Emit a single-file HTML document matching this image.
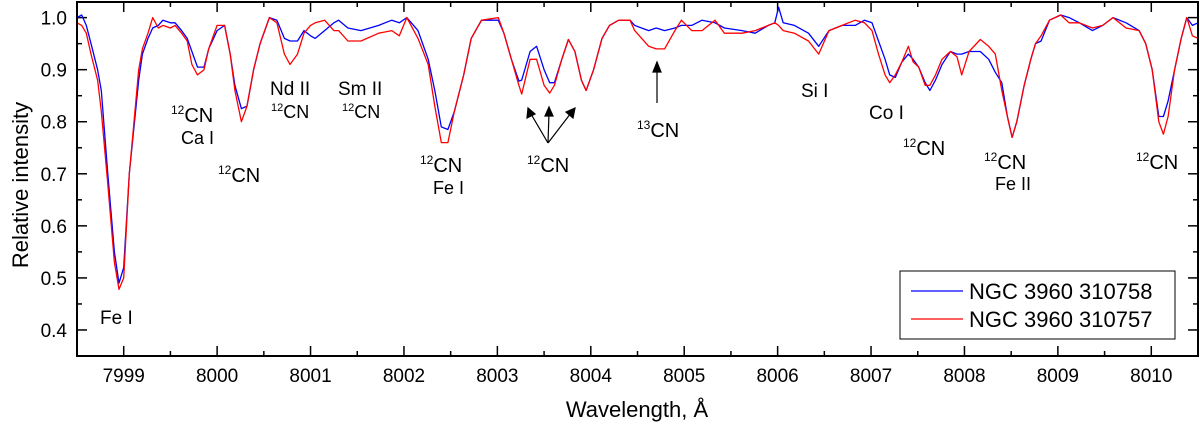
<!DOCTYPE html>
<html><head><meta charset="utf-8"><style>
body{margin:0;background:#fff;}
svg{display:block;font-family:"Liberation Sans",Arial,sans-serif;}
</style></head><body>
<svg id="chart" width="1200" height="424" viewBox="0 0 1200 424">
<g id="ticks"></g>
<g id="series"></g>
<rect x="77" y="2" width="1121" height="354" fill="none" stroke="#000" stroke-width="2"/>
<g id="ann" font-size="20" fill="#000">
<text x="100" y="324" font-size="19">Fe I</text>
<text x="171" y="122"><tspan font-size="12" dy="-8">12</tspan><tspan dy="8">CN</tspan></text>
<text x="181" y="144" font-size="18">Ca I</text>
<text x="218" y="182"><tspan font-size="12" dy="-8">12</tspan><tspan dy="8">CN</tspan></text>
<text x="270" y="95" font-size="19">Nd II</text>
<text x="271" y="118" font-size="18"><tspan font-size="11" dy="-7">12</tspan><tspan dy="7">CN</tspan></text>
<text x="338" y="95" font-size="19">Sm II</text>
<text x="342" y="118" font-size="18"><tspan font-size="11" dy="-7">12</tspan><tspan dy="7">CN</tspan></text>
<text x="420" y="172"><tspan font-size="12" dy="-8">12</tspan><tspan dy="8">CN</tspan></text>
<text x="433" y="194" font-size="18">Fe I</text>
<text x="527" y="172"><tspan font-size="12" dy="-8">12</tspan><tspan dy="8">CN</tspan></text>
<text x="637" y="137"><tspan font-size="12" dy="-8">13</tspan><tspan dy="8">CN</tspan></text>
<text x="801" y="97" font-size="19">Si I</text>
<text x="869" y="119" font-size="19">Co I</text>
<text x="903" y="155"><tspan font-size="12" dy="-8">12</tspan><tspan dy="8">CN</tspan></text>
<text x="984" y="169"><tspan font-size="12" dy="-8">12</tspan><tspan dy="8">CN</tspan></text>
<text x="995" y="190" font-size="18">Fe II</text>
<text x="1136" y="169"><tspan font-size="12" dy="-8">12</tspan><tspan dy="8">CN</tspan></text>
</g>
<g stroke="#000" stroke-width="1.2" fill="#000">
<line x1="548" y1="143" x2="531" y2="114"/><polygon points="528,108 527,118 535,114"/>
<line x1="548" y1="143" x2="549" y2="113"/><polygon points="549,107 545,116 553,116"/>
<line x1="548" y1="143" x2="571" y2="113"/><polygon points="575,108 566,112 573,118"/>
<line x1="657" y1="103" x2="657" y2="70"/><polygon points="657,62 653,72 661,72"/>
</g>
<g>
<rect x="900" y="271" width="275" height="68" fill="#fff" stroke="#000" stroke-width="1"/>
<line x1="911" y1="291" x2="963" y2="291" stroke="#0000ff" stroke-width="1.2"/>
<line x1="911" y1="319" x2="963" y2="319" stroke="#ff0000" stroke-width="1.2"/>
<text x="969" y="299" font-size="22">NGC 3960 310758</text>
<text x="969" y="327" font-size="22">NGC 3960 310757</text>
</g>
<text x="637" y="417" font-size="22" text-anchor="middle">Wavelength, Å</text>
<text transform="translate(28,185) rotate(-90)" font-size="22" text-anchor="middle">Relative intensity</text>
</svg>
<script>
const xTicks=[7999,8000,8001,8002,8003,8004,8005,8006,8007,8008,8009,8010];
const yTicks=[0.4,0.5,0.6,0.7,0.8,0.9,1.0];
const wavelengths=[7998.5,7998.55,7998.6,7998.65,7998.72,7998.76,7998.83,7998.9,7998.95,7999.0,7999.06,7999.16,7999.2,7999.26,7999.31,7999.37,7999.42,7999.5,7999.55,7999.62,7999.68,7999.73,7999.79,7999.86,7999.91,8000.0,8000.08,8000.14,8000.19,8000.26,8000.32,8000.39,8000.46,8000.56,8000.64,8000.72,8000.78,8000.86,8000.93,8001.0,8001.05,8001.15,8001.25,8001.3,8001.4,8001.54,8001.73,8001.87,8001.95,8002.03,8002.15,8002.26,8002.33,8002.4,8002.47,8002.54,8002.64,8002.72,8002.83,8003.01,8003.07,8003.15,8003.23,8003.26,8003.35,8003.42,8003.5,8003.56,8003.61,8003.69,8003.76,8003.83,8003.9,8003.95,8004.03,8004.12,8004.2,8004.3,8004.42,8004.47,8004.62,8004.7,8004.79,8004.9,8004.97,8005.08,8005.19,8005.33,8005.43,8005.62,8005.76,8005.9,8005.97,8006.01,8006.06,8006.18,8006.33,8006.44,8006.55,8006.69,8006.83,8006.93,8007.01,8007.08,8007.15,8007.2,8007.26,8007.33,8007.4,8007.45,8007.51,8007.58,8007.63,8007.69,8007.76,8007.85,8007.92,8007.97,8008.05,8008.17,8008.26,8008.33,8008.4,8008.46,8008.51,8008.56,8008.64,8008.71,8008.76,8008.82,8008.91,8009.03,8009.12,8009.23,8009.37,8009.48,8009.59,8009.73,8009.87,8009.94,8010.01,8010.08,8010.13,8010.18,8010.25,8010.32,8010.38,8010.44,8010.5];
const blueValues=[1.0,1.005,0.985,0.95,0.90,0.86,0.70,0.55,0.49,0.52,0.70,0.88,0.93,0.96,0.98,0.985,0.995,0.99,0.99,0.975,0.96,0.935,0.905,0.905,0.94,0.975,0.985,0.93,0.87,0.825,0.83,0.90,0.95,1.0,0.995,0.96,0.955,0.955,0.975,0.965,0.96,0.975,0.99,0.995,0.98,0.975,0.985,0.995,0.99,1.0,0.975,0.92,0.86,0.79,0.785,0.82,0.89,0.96,0.995,0.995,0.97,0.92,0.878,0.88,0.935,0.945,0.90,0.875,0.875,0.92,0.958,0.935,0.88,0.86,0.9,0.96,0.985,0.995,0.995,0.985,0.975,0.98,0.975,0.98,0.985,0.985,0.995,0.99,0.98,0.975,0.97,0.985,0.99,1.02,0.99,0.985,0.97,0.945,0.975,0.985,0.985,0.995,0.99,0.955,0.92,0.89,0.885,0.915,0.93,0.92,0.905,0.875,0.86,0.88,0.91,0.935,0.93,0.93,0.935,0.935,0.92,0.895,0.875,0.81,0.77,0.8,0.87,0.92,0.95,0.955,0.995,1.005,1.0,0.99,0.975,0.985,1.0,0.99,0.975,0.95,0.9,0.81,0.81,0.84,0.9,0.96,1.0,0.985,0.99];
const redValues=[0.99,0.985,0.97,0.93,0.88,0.82,0.68,0.53,0.478,0.50,0.70,0.90,0.94,0.97,1.0,0.98,0.985,0.98,0.985,0.97,0.955,0.91,0.89,0.90,0.94,0.985,0.985,0.93,0.86,0.80,0.83,0.90,0.95,1.0,0.99,0.93,0.91,0.93,0.97,0.985,0.99,0.995,0.975,0.975,0.955,0.955,0.97,0.975,0.965,1.0,0.96,0.91,0.83,0.76,0.76,0.82,0.89,0.96,0.995,1.0,0.97,0.92,0.87,0.853,0.92,0.92,0.87,0.855,0.87,0.92,0.958,0.935,0.88,0.86,0.9,0.96,0.985,0.995,0.995,0.975,0.945,0.94,0.94,0.975,0.995,0.975,0.975,0.995,0.97,0.97,0.975,0.985,0.99,0.985,0.975,0.97,0.955,0.93,0.975,0.985,0.995,0.99,0.975,0.93,0.89,0.875,0.89,0.915,0.945,0.915,0.905,0.87,0.87,0.89,0.92,0.935,0.925,0.89,0.935,0.958,0.945,0.93,0.86,0.81,0.77,0.8,0.87,0.92,0.95,0.965,0.995,1.005,0.99,0.99,0.98,0.985,1.0,0.98,0.975,0.95,0.9,0.8,0.776,0.81,0.9,0.96,1.0,0.965,0.96];
const X0=77,X1=1198,Y0=2,Y1=356,XMIN=7998.5,XMAX=8010.5,YMIN=0.35,YMAX=1.03;
function sx(v){return X0+(v-XMIN)/(XMAX-XMIN)*(X1-X0);}
function sy(v){return Y1-(v-YMIN)/(YMAX-YMIN)*(Y1-Y0);}
const NS="http://www.w3.org/2000/svg";
const tg=document.getElementById('ticks');
function ln(x1,y1,x2,y2,w){const l=document.createElementNS(NS,'line');l.setAttribute('x1',x1);l.setAttribute('y1',y1);l.setAttribute('x2',x2);l.setAttribute('y2',y2);l.setAttribute('stroke','#000');l.setAttribute('stroke-width',w||1.5);


tg.appendChild(l);}
function tx(x,y,s,anchor){const t=document.createElementNS(NS,'text');t.setAttribute('x',x);t.setAttribute('y',y);t.setAttribute('font-size','19');t.setAttribute('text-anchor',anchor);t.textContent=s;


tg.appendChild(t);}
xTicks.forEach(v=>{const x=sx(v);ln(x,Y1,x,Y1-10);ln(x,Y0,x,Y0+10);tx(x,382,String(v),'middle');
const m=sx(v+0.5);if(v+0.5<XMAX){ln(m,Y1,m,Y1-5);ln(m,Y0,m,Y0+5);}});
ln(sx(7998.5+0.0),Y1,sx(7998.5),Y1-5);
yTicks.forEach(v=>{const y=sy(v);ln(X0,y,X0+10,y);ln(X1,y,X1-10,y);tx(67,y+7,v.toFixed(1),'end');
const m=sy(v+0.05);if(v+0.05<YMAX){ln(X0,m,X0+5,m);ln(X1,m,X1-5,m);}});
const sg=document.getElementById('series');
function path(vals,color,name){const p=document.createElementNS(NS,'path');
let d='';wavelengths.forEach((w,i)=>{d+=(i?'L':'M')+sx(w).toFixed(1)+','+sy(vals[i]).toFixed(1);});
p.setAttribute('d',d);p.setAttribute('fill','none');p.setAttribute('stroke',color);p.setAttribute('stroke-width','1.3');p.setAttribute('stroke-linejoin','round');


sg.appendChild(p);}
path(blueValues,'#0000ff','series-310758');
path(redValues,'#ff0000','series-310757');
</script>
</body></html>
